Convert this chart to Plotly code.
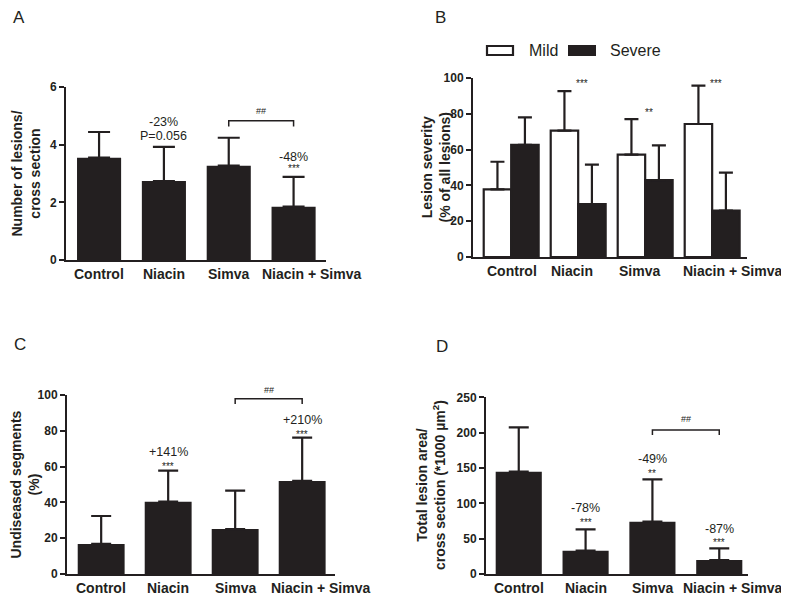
import plotly.graph_objects as go

# ---------------- data ----------------
categories = ["Control", "Niacin", "Simva", "Niacin + Simva"]

lesions_mean = [3.55, 2.74, 3.27, 1.85]
lesions_sd = [0.89, 1.18, 0.97, 1.03]

mild_mean = [37.8, 70.6, 57.2, 74.3]
mild_sd = [15.4, 22.1, 19.8, 21.4]
severe_mean = [62.6, 29.6, 43.0, 25.9]
severe_sd = [15.4, 22.0, 19.4, 21.2]

undiseased_mean = [16.8, 40.4, 25.1, 52.0]
undiseased_sd = [15.6, 17.3, 21.5, 24.2]

area_mean = [144.8, 33.0, 74.0, 19.8]
area_sd = [62.7, 30.2, 60.0, 16.5]

ticks_a = [0, 2, 4, 6]
ticks_pct = [0, 20, 40, 60, 80, 100]
ticks_d = [0, 50, 100, 150, 200, 250]

DARK = "#231f20"
FONT = "Liberation Sans"
OFF = 8                      # page body margin
W, H = 789 - OFF, 608 - OFF  # figure size so it fits the window


def px_x(p):
    return (p - OFF) / W


def px_y(p):
    return 1 - (p - OFF) / H


fig = go.Figure()


def err(sd, half):
    return dict(type="data", symmetric=False, array=sd, arrayminus=[0] * len(sd),
                color=DARK, thickness=2.2, width=half)


# Panel A
fig.add_trace(go.Bar(x=categories, y=lesions_mean, width=0.68, marker=dict(color=DARK, line=dict(width=0)),
                     error_y=err(lesions_sd, 11), xaxis="x", yaxis="y", showlegend=False))
# Panel B
fig.add_trace(go.Bar(x=categories, y=mild_mean, width=0.41, offset=-0.41, name="Mild",
                     marker=dict(color="white", line=dict(color=DARK, width=2.2)),
                     error_y=err(mild_sd, 7), xaxis="x2", yaxis="y2", showlegend=False))
fig.add_trace(go.Bar(x=categories, y=severe_mean, width=0.41, offset=0.0, name="Severe",
                     marker=dict(color=DARK, line=dict(color=DARK, width=2.2)),
                     error_y=err(severe_sd, 7), xaxis="x2", yaxis="y2", showlegend=False))
# Panel C
fig.add_trace(go.Bar(x=categories, y=undiseased_mean, width=0.70, marker=dict(color=DARK, line=dict(width=0)),
                     error_y=err(undiseased_sd, 10), xaxis="x3", yaxis="y3", showlegend=False))
# Panel D
fig.add_trace(go.Bar(x=categories, y=area_mean, width=0.69, marker=dict(color=DARK, line=dict(width=0)),
                     error_y=err(area_sd, 10), xaxis="x4", yaxis="y4", showlegend=False))

# significance brackets (Simva vs Niacin + Simva): (xaxis, yaxis, top, bottom)
brackets = [("x", "y", 4.83, 4.63), ("x3", "y3", 97.9, 95.0), ("x4", "y4", 203.8, 196.5)]
for xa, ya, top, low in brackets:
    fig.add_trace(go.Scatter(x=[categories[2], categories[2], categories[3], categories[3]],
                             y=[low, top, top, low], mode="lines",
                             line=dict(color=DARK, width=1.5), xaxis=xa, yaxis=ya,
                             showlegend=False, hoverinfo="skip", cliponaxis=False))

axis_common = dict(showline=True, linecolor=DARK, linewidth=2, showgrid=False, zeroline=False,
                   automargin=False, fixedrange=True)
xfont = dict(family=FONT, size=14, color=DARK, weight="bold")
yfont = dict(family=FONT, size=12, color=DARK, weight="bold")


def xaxis(domain, rng, anchor):
    return dict(domain=domain, range=rng, anchor=anchor, type="category", ticks="",
                showticklabels=False, **axis_common)


def yaxis(domain, rng, tv, anchor):
    return dict(domain=domain, range=rng, anchor=anchor, tickvals=tv, ticks="outside", ticklen=5,
                tickwidth=2, tickcolor=DARK, tickfont=yfont, **axis_common)


fig.update_layout(
    width=W, height=H, margin=dict(l=0, r=0, t=0, b=0, pad=0), autosize=False,
    paper_bgcolor="white", plot_bgcolor="white",
    barmode="overlay",
    xaxis=xaxis([px_x(66), px_x(326)], [-0.51, 3.5], "y"),
    yaxis=yaxis([px_y(260), px_y(87)], [0, 6], ticks_a, "x"),
    xaxis2=xaxis([px_x(473), px_x(747)], [-0.57, 3.52], "y2"),
    yaxis2=yaxis([px_y(257), px_y(78)], [0, 100], ticks_pct, "x2"),
    xaxis3=xaxis([px_x(67), px_x(335)], [-0.51, 3.49], "y3"),
    yaxis3=yaxis([px_y(574), px_y(395)], [0, 100], ticks_pct, "x3"),
    xaxis4=xaxis([px_x(486), px_x(748)], [-0.49, 3.43], "y4"),
    yaxis4=yaxis([px_y(574), px_y(397.3)], [0, 250], ticks_d, "x4"),
)

ann = []
# category labels (drawn as annotations so each can be nudged like the original)
label_shifts = {
    ("x", "y"): [0, 0, 0, 18],
    ("x2", "y2"): [1, -6, -6, 20],
    ("x3", "y3"): [0, 0, 0, 18],
    ("x4", "y4"): [0, 0, 0, 13],
}
for (xr, yr), shifts in label_shifts.items():
    for i, cat in enumerate(categories):
        ann.append(dict(text=cat, x=i, y=0, xref=xr, yref=yr, showarrow=False, xanchor="center",
                        yanchor="middle", yshift=-14, xshift=shifts[i], font=xfont))

# panel letters
for letter, x, y in [("A", 19, 17), ("B", 440, 17), ("C", 20, 344), ("D", 442, 347)]:
    ann.append(dict(text=letter, x=px_x(x), y=px_y(y), xref="paper", yref="paper", showarrow=False,
                    xanchor="center", yanchor="middle", font=dict(family=FONT, size=17, color=DARK)))
# y axis titles
for txt, x, y in [("Number of lesions/<br>cross section", 25, 173.5),
                  ("Lesion severity<br>(% of all lesions)", 435, 167.5),
                  ("Undiseased segments<br>(%)", 24, 484.5),
                  ("Total lesion area/<br>cross section (*1000 µm<sup>2</sup>)", 431, 485)]:
    ann.append(dict(text=txt, x=px_x(x), y=px_y(y), xref="paper", yref="paper",
                    showarrow=False, textangle=-90, xanchor="center", yanchor="middle",
                    font=dict(family=FONT, size=14, color=DARK, weight="bold")))

pct_font = dict(family=FONT, size=12.5, color=DARK)
star_font = dict(family=FONT, size=10, color=DARK)
hash_font = dict(family=FONT, size=9, color=DARK)
labels = [
    # (xref, yref, category index, y, text, font, xshift, yshift)
    ("x", "y", 1, 4.79, "-23%", pct_font, 0, 0),
    ("x", "y", 1, 4.30, "P=0.056", pct_font, 0, 0),
    ("x", "y", 3, 3.57, "-48%", pct_font, 0, 0),
    ("x", "y", 3, 3.16, "***", star_font, 0, 0),
    ("x", "y", 2.5, 4.83, "##", hash_font, 0, 10),
    ("x2", "y2", 1, 97.2, "***", star_font, 4, 0),
    ("x2", "y2", 2, 81.0, "**", star_font, 4, 0),
    ("x2", "y2", 3, 97.2, "***", star_font, 4, 0),
    ("x3", "y3", 1, 68.2, "+141%", pct_font, 0, 0),
    ("x3", "y3", 1, 59.8, "***", star_font, 0, 0),
    ("x3", "y3", 3, 86.0, "+210%", pct_font, 0, 0),
    ("x3", "y3", 3, 77.7, "***", star_font, 0, 0),
    ("x3", "y3", 2.5, 97.9, "##", hash_font, 0, 9),
    ("x4", "y4", 1, 93.4, "-78%", pct_font, 0, 0),
    ("x4", "y4", 1, 72.2, "***", star_font, 0, 0),
    ("x4", "y4", 2, 162.7, "-49%", pct_font, 0, 0),
    ("x4", "y4", 2, 141.5, "**", star_font, 0, 0),
    ("x4", "y4", 3, 63.7, "-87%", pct_font, 0, 0),
    ("x4", "y4", 3, 43.9, "***", star_font, 0, 0),
    ("x4", "y4", 2.5, 203.8, "##", hash_font, 0, 11),
]
for xr, yr, xi, yv, txt, fnt, xs, ys in labels:
    ann.append(dict(text=txt, x=xi, y=yv, xref=xr, yref=yr, showarrow=False, xanchor="center",
                    yanchor="middle", font=fnt, xshift=xs, yshift=ys))

# legend for panel B (manual)
ann.append(dict(text="Mild", x=px_x(527), y=px_y(50), xref="paper", yref="paper", showarrow=False,
                xanchor="left", yanchor="middle", font=dict(family=FONT, size=16, color=DARK)))
ann.append(dict(text="Severe", x=px_x(608), y=px_y(51), xref="paper", yref="paper", showarrow=False,
                xanchor="left", yanchor="middle", font=dict(family=FONT, size=16, color=DARK)))
fig.update_layout(annotations=ann)

fig.add_shape(type="rect", xref="paper", yref="paper", x0=px_x(487), x1=px_x(513), y0=px_y(55), y1=px_y(46),
              line=dict(color=DARK, width=2.2), fillcolor="white")
fig.add_shape(type="rect", xref="paper", yref="paper", x0=px_x(568), x1=px_x(596), y0=px_y(56), y1=px_y(45),
              line=dict(color=DARK, width=0), fillcolor=DARK)

fig.write_html("out.html")
